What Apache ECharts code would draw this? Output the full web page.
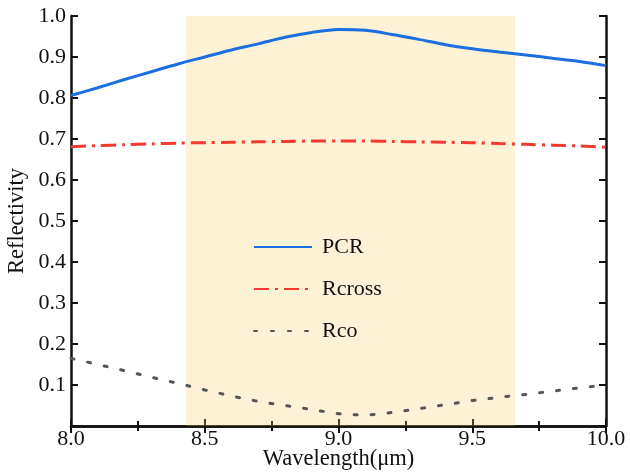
<!DOCTYPE html>
<html>
<head>
<meta charset="UTF-8">
<title>Reflectivity</title>
<script src="https://cdn.jsdelivr.net/npm/echarts@6/dist/echarts.min.js"></script>
<style>
  html, body { margin: 0; padding: 0; background: #fff; }
  #main { width: 630px; height: 473px; }
</style>
</head>
<body>
<div id="main"></div>
<script>
// wavelength (um)
var wavelength = [8.0, 8.1, 8.2, 8.3, 8.4, 8.5, 8.6, 8.7, 8.8, 8.9, 9.0,
                  9.1, 9.2, 9.3, 9.4, 9.5, 9.6, 9.7, 9.8, 9.9, 10.0];
var pcr    = [0.806, 0.825, 0.845, 0.864, 0.883, 0.900, 0.917, 0.932, 0.948, 0.960, 0.967,
              0.965, 0.955, 0.943, 0.930, 0.920, 0.912, 0.905, 0.897, 0.889, 0.879];
var rcross = [0.681, 0.684, 0.686, 0.688, 0.690, 0.691, 0.692, 0.693, 0.694, 0.695, 0.695,
              0.695, 0.694, 0.693, 0.692, 0.691, 0.689, 0.687, 0.685, 0.683, 0.680];
var rco    = [0.165, 0.150, 0.135, 0.119, 0.104, 0.088, 0.073, 0.060, 0.050, 0.040, 0.030,
              0.026, 0.033, 0.042, 0.052, 0.062, 0.070, 0.077, 0.085, 0.093, 0.100];
var band = [8.43, 9.66];

function pairs(ys) {
    return wavelength.map(function (x, i) { return [x, ys[i]]; });
}

var serif = 'Liberation Serif';
var chart = echarts.init(document.getElementById('main'));

var option = {
    animation: false,
    grid: { left: 71, right: 24, top: 16, bottom: 47, outerBoundsMode: 'none', containLabel: false },
    legend: {
        data: ['PCR', 'Rcross', 'Rco'],
        orient: 'vertical',
        left: 248,
        top: 231,
        itemWidth: 58,
        itemHeight: 14,
        itemGap: 20,
        itemStyle: { opacity: 0 },
        textStyle: { fontFamily: serif, fontSize: 22, color: '#111', padding: [0, 0, 0, 5] }
    },
    xAxis: [{
        type: 'value', min: 8, max: 10, interval: 0.5,
        name: 'Wavelength(μm)', nameLocation: 'middle', nameGap: 22, nameMoveOverlap: false,
        nameTextStyle: { fontFamily: serif, fontSize: 22.5, color: '#111' },
        axisLine: { lineStyle: { color: '#111', width: 2.5 } },
        axisTick: { inside: true, length: 7, lineStyle: { width: 2 } },
        minorTick: { show: true, splitNumber: 2, length: 5, lineStyle: { color: '#111', width: 2 } },
        axisLabel: { fontFamily: serif, fontSize: 22, color: '#111', margin: 2,
                     formatter: function (v) { return v.toFixed(1); } },
        splitLine: { show: false }
    }, {
        type: 'value', min: 8, max: 10, interval: 0.5, position: 'top',
        axisLine: { lineStyle: { color: '#111', width: 2.5 } },
        axisTick: { inside: true, length: 7, lineStyle: { width: 2 } },
        minorTick: { show: true, splitNumber: 2, length: 5, lineStyle: { color: '#111', width: 2 } },
        axisLabel: { show: false },
        splitLine: { show: false }
    }],
    yAxis: [{
        type: 'value', min: 0, max: 1, interval: 0.1,
        name: 'Reflectivity', nameLocation: 'middle', nameGap: 42, nameMoveOverlap: false,
        nameTextStyle: { fontFamily: serif, fontSize: 22.5, color: '#111' },
        axisLine: { lineStyle: { color: '#111', width: 2.5 } },
        axisTick: { inside: true, length: 7, lineStyle: { width: 2 } },
        axisLabel: { fontFamily: serif, fontSize: 22, color: '#111', margin: 5,
                     formatter: function (v) { return v === 0 ? '' : v.toFixed(1); } },
        splitLine: { show: false }
    }, {
        type: 'value', min: 0, max: 1, interval: 0.1, position: 'right',
        axisLine: { show: true, lineStyle: { color: '#111', width: 2.5 } },
        axisTick: { show: true, inside: true, length: 7, lineStyle: { width: 2 } },
        axisLabel: { show: false },
        splitLine: { show: false }
    }],
    series: [{
        name: 'PCR', type: 'line', data: pairs(pcr),
        showSymbol: false, symbol: 'none', smooth: 0.3,
        lineStyle: { color: '#1c6fdf', width: 3 },
        itemStyle: { color: '#1c6fdf' }
    }, {
        name: 'Rcross', type: 'line', data: pairs(rcross),
        showSymbol: false, symbol: 'none', smooth: 0.3,
        lineStyle: { color: '#f23a30', width: 3, type: [15, 6, 3, 6] },
        itemStyle: { color: '#f23a30' }
    }, {
        name: 'Rco', type: 'line', data: pairs(rco),
        showSymbol: false, symbol: 'none',
        lineStyle: { color: '#555', width: 3, type: [3, 14], cap: 'round' },
        itemStyle: { color: '#555' }
    }, {
        name: 'band', type: 'line', data: [], z: 10,
        markArea: {
            silent: true,
            itemStyle: { color: 'rgba(247,203,91,0.25)' },
            data: [[{ xAxis: band[0] }, { xAxis: band[1] }]]
        }
    }]
};

chart.setOption(option);
</script>
</body>
</html>
